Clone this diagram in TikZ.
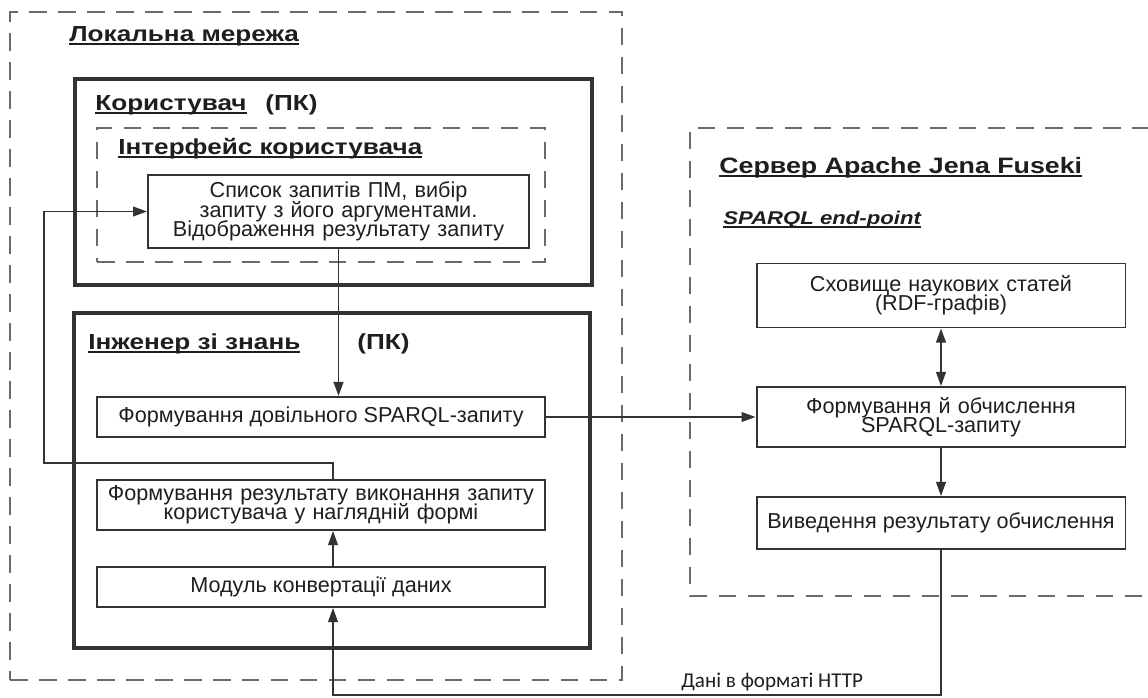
\documentclass[tikz,border=0pt]{standalone}
\usepackage{fontspec}
\setmainfont{Liberation Sans}
\newfontfamily\titlefont{Liberation Sans}[FakeStretch=1.2]
\newfontfamily\httpfont{Carlito}
\usetikzlibrary{arrows.meta,fit}
\definecolor{linec}{HTML}{333333}
\definecolor{dashc}{HTML}{6A6A6A}
\definecolor{textc}{HTML}{1E1E1E}
\newcommand\tightlines{\lineskiplimit=-100pt\relax\lineskip=0pt\relax}
\newcommand\thickul[1]{\setbox0\hbox{#1}\leavevmode\rlap{\rule[-2.4pt]{\wd0}{1pt}}\box0}
\tikzset{
  dashbox/.style={draw=dashc, line width=0.85pt, dash pattern=on 10pt off 6.5pt},
  thickbox/.style={draw=linec, line width=1.8pt, inner sep=0pt},
  procbox/.style={draw=linec, line width=1.1pt, inner sep=0pt, align=center,
    text=textc, font=\fontsize{12.3}{11}\selectfont\tightlines},
  titletext/.style={anchor=base west, inner sep=0pt, text=textc, font=\titlefont\bfseries\fontsize{12.4}{14}\selectfont},
  conn/.style={draw=linec, line width=1.1pt, -{Triangle[length=8pt,width=5.5pt]}},
  dconn/.style={draw=linec, line width=1.1pt, {Triangle[length=8pt,width=5.5pt]}-{Triangle[length=8pt,width=5.5pt]}}
}
\begin{document}
\begin{tikzpicture}[x=0.02cm,y=-0.02cm]
\useasboundingbox (0,0) rectangle (1148,697);
% containers
\node[dashbox, fit={(10,12) (622,680)}, inner sep=0pt] (lan) {};
\node[titletext] (lantitle) at (69,41) {\thickul{Локальна мережа}};
\node[thickbox, fit={(75,79) (592,285)}] (user) {};
\node[titletext] (usertitle) at (95,110) {\thickul{Користувач}};
\node[titletext] (userpc) at (265,110) {(ПК)};
\node[dashbox, fit={(97,128) (545,262)}, inner sep=0pt] (iface) {};
\node[titletext] (ifacetitle) at (118,154) {\thickul{Інтерфейс користувача}};
\node[thickbox, fit={(74,313) (590,648)}] (eng) {};
\node[titletext] (engtitle) at (88,349) {\thickul{Інженер зі знань}};
\node[titletext] (engpc) at (357,349) {(ПК)};
\draw[dashbox] (1150,128) -- (690,128) -- (690,596) -- (1150,596);
\node[titletext, font=\titlefont\bfseries\fontsize{12.7}{14}\selectfont] (srvtitle) at (719,173) {\thickul{Сервер Apache Jena Fuseki}};
\node[titletext, font=\titlefont\bfseries\itshape\fontsize{10.5}{12}\selectfont] (endpoint) at (723,224) {\thickul{SPARQL end-point}};
% process boxes
\node[procbox, text width=7.4cm, minimum width=7.62cm, minimum height=1.46cm] (list) at (338.5,211.5) {Список запитів ПМ, вибір\\запиту з його аргументами.\\Відображення результату запиту};
\node[procbox, minimum width=8.96cm, minimum height=0.8cm] (sparqlq) at (321,417) {Формування довільного SPARQL-запиту};
\node[procbox, text width=8.9cm, minimum width=8.96cm, minimum height=1.0cm] (result) at (321,505) {Формування результату виконання запиту\\користувача у наглядній формі};
\node[procbox, minimum width=8.96cm, minimum height=0.8cm] (conv) at (321,587) {Модуль конвертації даних};
\node[procbox, text width=7.2cm, minimum width=7.38cm, minimum height=1.28cm] (store) at (941,295.5) {Сховище наукових статей\\(RDF-графів)};
\node[procbox, text width=7.2cm, minimum width=7.38cm, minimum height=1.2cm] (compute) at (941,417) {Формування й обчислення\\SPARQL-запиту};
\node[procbox, minimum width=7.38cm, minimum height=1.04cm] (output) at (941,523) {Виведення результату обчислення};
% connectors
\coordinate (fb1) at (333,463);
\coordinate (fb2) at (44,463);
\coordinate (cb) at (333,695);
\draw[conn] (list.south) -- (list.south |- sparqlq.north);
\draw[conn] (sparqlq.east) -- (compute.west);
\draw[dconn] (store.south) -- (compute.north);
\draw[conn] (compute.south) -- (output.north);
\draw[conn] (fb1 |- result.north) -- (fb1) -- (fb2) |- (list.west);
\draw[conn] (fb1 |- conv.north) -- (fb1 |- result.south);
\draw[conn] (output.south) |- (cb) -- (cb |- conv.south);
\node[anchor=base west, inner sep=0pt, text=textc, font=\httpfont\fontsize{12}{14}\selectfont] (http) at (681,687) {Дані в форматі HTTP};
\end{tikzpicture}
\end{document}
